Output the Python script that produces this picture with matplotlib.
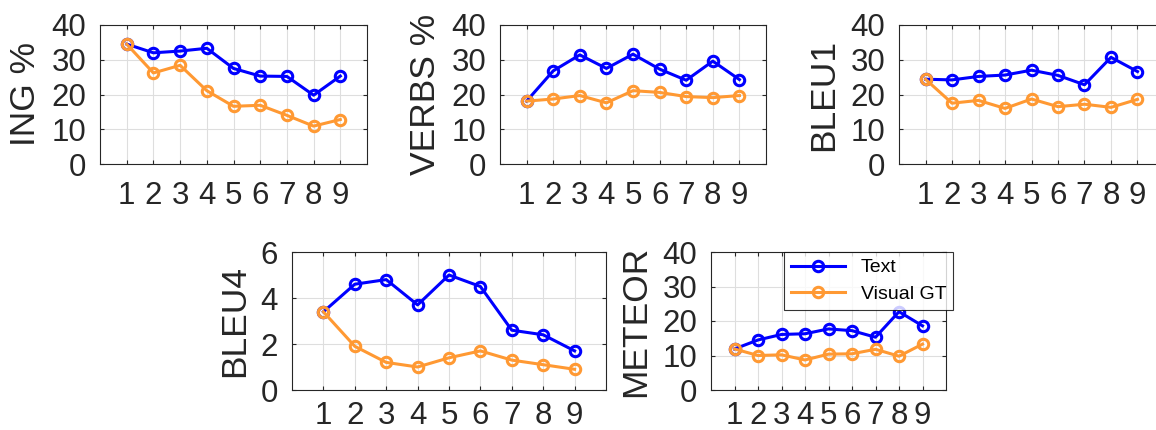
import numpy as np
import matplotlib.pyplot as plt

plt.rcParams['font.family'] = ['Liberation Sans', 'DejaVu Sans']

steps = np.arange(1, 10)

ing_text = [34.5, 32.0, 32.5, 33.3, 27.5, 25.3, 25.2, 19.8, 25.3]
ing_visual = [34.5, 26.2, 28.4, 21.1, 16.6, 16.9, 14.0, 10.9, 12.8]
verbs_text = [18.1, 26.8, 31.4, 27.5, 31.6, 27.3, 24.1, 29.6, 24.3]
verbs_visual = [18.1, 18.7, 19.7, 17.6, 21.1, 20.6, 19.4, 19.1, 19.7]
bleu1_text = [24.4, 24.2, 25.2, 25.6, 27.0, 25.5, 22.8, 30.7, 26.6]
bleu1_visual = [24.4, 17.5, 18.3, 16.0, 18.7, 16.5, 17.2, 16.3, 18.6]
bleu4_text = [3.4, 4.6, 4.8, 3.7, 5.0, 4.5, 2.6, 2.4, 1.7]
bleu4_visual = [3.4, 1.9, 1.2, 1.0, 1.4, 1.7, 1.3, 1.1, 0.9]
meteor_text = [11.9, 14.5, 16.1, 16.3, 17.7, 17.2, 15.3, 22.7, 18.6]
meteor_visual = [11.9, 10.0, 10.2, 8.7, 10.4, 10.5, 11.8, 9.8, 13.3]

W, H = 1156, 430
# axes boxes in pixels: left, top, right, bottom
boxes = [
    (100, 25, 367, 164),
    (500, 25, 766, 164),
    (899, 25, 1164, 164),
    (292, 252, 606, 390),
    (711, 252, 946, 390),
]
panels = [
    ('ING %', ing_text, ing_visual, 40, [0, 10, 20, 30, 40]),
    ('VERBS %', verbs_text, verbs_visual, 40, [0, 10, 20, 30, 40]),
    ('BLEU1', bleu1_text, bleu1_visual, 40, [0, 10, 20, 30, 40]),
    ('BLEU4', bleu4_text, bleu4_visual, 6, [0, 2, 4, 6]),
    ('METEOR', meteor_text, meteor_visual, 40, [0, 10, 20, 30, 40]),
]

blue = '#0000ff'
orange = '#ff9933'
dark = '#262626'

fig = plt.figure(figsize=(W / 100, H / 100), dpi=100)
for i, ((l, t, r, b), (name, txt, vis, ymax, yt)) in enumerate(zip(boxes, panels)):
    ax = fig.add_axes([l / W, 1 - b / H, (r - l) / W, (b - t) / H])
    ax.plot(steps, txt, '-o', color=blue, lw=2.2, ms=7.5, mew=2.2,
            mfc='none', label='Text', zorder=3)
    ax.plot(steps, vis, '-o', color=orange, lw=2.2, ms=7.5, mew=2.2,
            mfc='none', label='Visual GT', zorder=3)
    ax.set_xlim(0, 10)
    ax.set_ylim(0, ymax)
    ax.set_xticks(steps)
    ax.set_yticks(yt)
    ax.grid(True, color='#dedede', lw=0.8)
    ax.set_axisbelow(True)
    ax.tick_params(direction='in', length=3, width=0.8, colors=dark,
                   labelsize=22.5, top=True, right=True)
    # bottom row sits close to the figure edge
    ax.tick_params(axis='x', pad=12 if i < 3 else 8)
    ax.tick_params(axis='y', pad=10)
    for s in ax.spines.values():
        s.set_color(dark)
        s.set_linewidth(0.8)
    ax.set_ylabel(name, fontsize=25.5, color=dark, labelpad=7)
    if name == 'METEOR':
        leg = ax.legend(loc='upper right', bbox_to_anchor=(1.03, 1.0),
                        fontsize=14, frameon=True, fancybox=False,
                        handlelength=2.8, borderpad=0.35, labelspacing=0.45,
                        borderaxespad=0)
        leg.get_frame().set_edgecolor('black')
        leg.get_frame().set_linewidth(0.8)

fig.savefig('out.png', dpi=100)
